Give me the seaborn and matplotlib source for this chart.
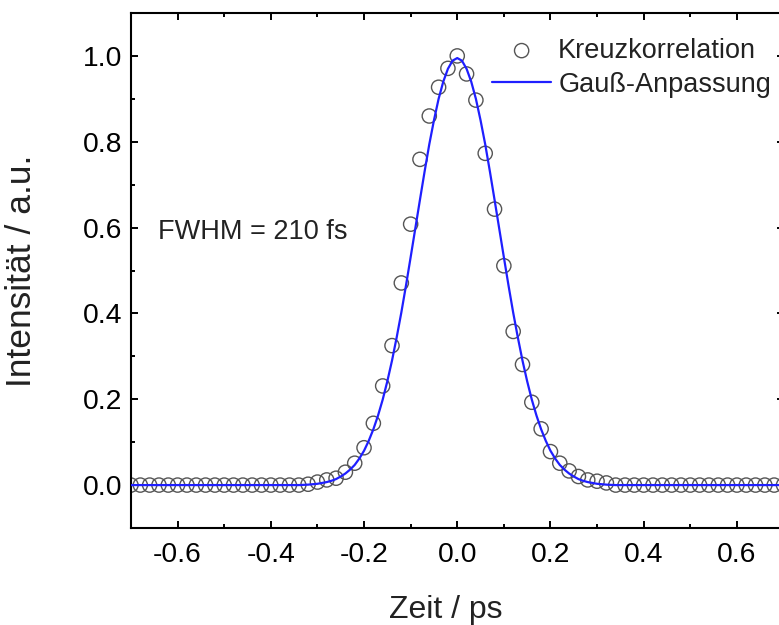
import numpy as np
import matplotlib
matplotlib.use("Agg")
import matplotlib.pyplot as plt
from matplotlib.ticker import MultipleLocator
import seaborn as sns

# ---- data ----
# measured cross-correlation, x = -0.70 ... 0.70 ps in 0.02 ps steps
data_x = np.round(np.linspace(-0.70, 0.70, 71), 2)
data_y = ([0.0] * 19 +
          [0.002, 0.007, 0.012, 0.016, 0.030, 0.051, 0.087, 0.144,
           0.231, 0.325, 0.471, 0.608, 0.759, 0.860, 0.927, 0.971,
           1.000,
           0.958, 0.897, 0.773, 0.643, 0.511, 0.358, 0.281, 0.193,
           0.131, 0.078, 0.051, 0.033, 0.020, 0.012, 0.009, 0.005] +
          [0.0] * 19)

# Gaussian fit curve values (x = -0.32 ... 0.32, 0.01 steps)
fit_core_y = [0.001, 0.002, 0.003, 0.005, 0.007, 0.010, 0.014, 0.020,
              0.027, 0.036, 0.047, 0.062, 0.080, 0.103, 0.130, 0.162,
              0.199, 0.242, 0.290, 0.344, 0.402, 0.465, 0.531, 0.598,
              0.665, 0.731, 0.794, 0.850, 0.900, 0.940, 0.970, 0.989,
              0.995,
              0.989, 0.970, 0.940, 0.900, 0.850, 0.794, 0.731, 0.665,
              0.598, 0.531, 0.465, 0.402, 0.344, 0.290, 0.242, 0.199,
              0.162, 0.130, 0.103, 0.080, 0.062, 0.047, 0.036, 0.027,
              0.020, 0.014, 0.010, 0.007, 0.005, 0.003, 0.002, 0.001]
fit_core_x = np.round(np.linspace(-0.32, 0.32, 65), 2)
fit_x = np.concatenate([[-0.70, -0.34], fit_core_x, [0.34, 0.70]])
fit_y = [0.0, 0.0] + fit_core_y + [0.0, 0.0]

x_ticks = [-0.6, -0.4, -0.2, 0.0, 0.2, 0.4, 0.6]
y_ticks = [0.0, 0.2, 0.4, 0.6, 0.8, 1.0]

# ---- style ----
sns.set_style("ticks")
plt.rcParams['font.family'] = ['Liberation Sans', 'DejaVu Sans']
plt.rcParams['axes.unicode_minus'] = False

fig = plt.figure(figsize=(7.79, 6.25), dpi=100)
ax = fig.add_axes([131 / 779, 97 / 625, 652.5 / 779, 515 / 625])

sns.scatterplot(x=data_x, y=data_y, ax=ax, marker='o', s=105,
                facecolors='none', edgecolor='#555555', linewidth=1.0,
                label='Kreuzkorrelation', zorder=2)
sns.lineplot(x=fit_x, y=fit_y, ax=ax, color='#1f1fff', linewidth=1.6,
             label='Gauß-Anpassung', zorder=3)

ax.set_xlim(-0.70, 0.70)
ax.set_ylim(-0.10, 1.10)
ax.set_xticks(x_ticks)
ax.set_yticks(y_ticks)
ax.set_xticklabels([f"{v:.1f}" for v in x_ticks])
ax.set_yticklabels([f"{v:.1f}" for v in y_ticks])
ax.xaxis.set_minor_locator(MultipleLocator(0.1))
ax.yaxis.set_minor_locator(MultipleLocator(0.1))
ax.tick_params(which='both', direction='in', top=True, right=True,
               width=1.4, color='black')
ax.tick_params(which='major', length=5.2, labelsize=20.3, colors='black')
ax.tick_params(axis='x', which='major', pad=10)
ax.tick_params(axis='y', which='major', pad=6)
ax.tick_params(which='minor', length=3)
for sp in ax.spines.values():
    sp.set_linewidth(1.5)
    sp.set_color('black')

ax.set_xlabel('Zeit / ps', fontsize=23, color='#222222')
ax.set_ylabel('Intensität / a.u.', fontsize=25.5, color='#222222')
ax.xaxis.set_label_coords(0.483, -0.13)
ax.yaxis.set_label_coords(-0.142, 0.5)

ax.text(-0.642, 0.59, 'FWHM = 210 fs', fontsize=19.5, va='center',
        ha='left', color='#222222')

leg = ax.legend(loc='upper left', bbox_to_anchor=(0.553, 0.952),
                frameon=False, fontsize=19.5, handlelength=2.2,
                handletextpad=0.25, labelspacing=0.3, borderpad=0,
                borderaxespad=0)
for t in leg.get_texts():
    t.set_color('#222222')

fig.savefig('out.png', dpi=100)
